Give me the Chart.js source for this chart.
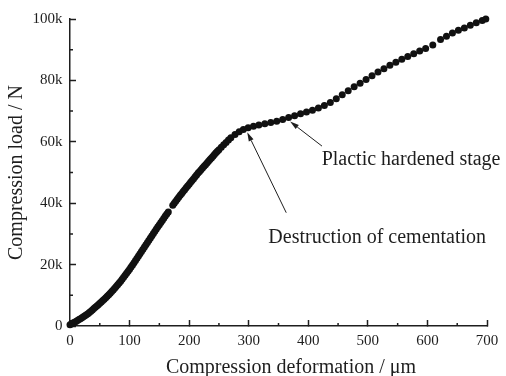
<!DOCTYPE html>
<html>
<head>
<meta charset="utf-8">
<script src="https://cdn.jsdelivr.net/npm/chart.js@4.4.1/dist/chart.umd.min.js"></script>
<style>
  html,body{margin:0;padding:0;background:#fff}
  #wrap{width:506px;height:376px}
</style>
</head>
<body>
<div id="wrap"><canvas id="chart" width="506" height="376"></canvas></div>
<script>
// ====== DATA ======
// compression deformation (µm) and the matching load (N)
const deformation = [
  0, 2.5, 5, 7.5, 10, 12.5, 15, 17.5, 20, 22.5, 25, 27.5, 30, 32.5, 35, 37.5, 40, 42.5, 45, 47.5,
  50, 52.5, 55, 57.5, 60, 62.5, 65, 67.5, 70, 72.5, 75, 77.5, 80, 82.5, 85, 87.5, 90, 92.5, 95, 97.5,
  100, 102.5, 105, 107.5, 110, 112.5, 115, 117.5, 120, 122.5, 125, 127.5, 130, 132.5, 135, 137.5, 140, 142.5, 145, 147.5,
  150, 152.5, 155, 157.5, 160, 162.5, 165, 172.5, 175, 177.5, 180, 182.5, 185, 187.5, 190, 192.5, 195, 197.5,
  200, 202.5, 205, 207.5, 210, 212.5, 215, 217.5, 220, 222.5, 225, 227.5, 230, 232.5, 235, 237.5, 240, 242.5, 245, 247.5,
  250, 254, 258, 262, 266, 270,
  277, 284, 291, 299, 308, 317, 327, 337, 347, 357, 367, 377, 387, 397,
  407, 417, 427, 437, 447, 457, 467, 477, 487, 497, 507, 517, 527, 537, 547, 557, 567, 577, 587, 597,
  609, 622, 632, 642, 652, 662, 672, 682, 692, 698
];
const load = [
  400, 700, 1000, 1250, 1500, 1800, 2100, 2400, 2700, 3000, 3300, 3650, 4000, 4400, 4800, 5250, 5700, 6100, 6500, 6950,
  7400, 7850, 8300, 8750, 9200, 9700, 10200, 10700, 11200, 11750, 12300, 12850, 13400, 14000, 14600, 15250, 15900, 16550, 17200, 17850,
  18500, 19200, 19900, 20600, 21300, 22050, 22800, 23550, 24300, 25000, 25700, 26450, 27200, 27950, 28700, 29400, 30100, 30850, 31600, 32300,
  33000, 33700, 34400, 35100, 35800, 36450, 37100, 39350, 40000, 40650, 41300, 41950, 42600, 43200, 43800, 44400, 45000, 45600,
  46200, 46800, 47400, 48000, 48600, 49200, 49800, 50350, 50900, 51450, 52000, 52550, 53100, 53650, 54200, 54750, 55300, 55850, 56400, 56900,
  57400, 58200, 59000, 59800, 60600, 61300,
  62400, 63300, 64000, 64600, 65100, 65500, 65900, 66300, 66700, 67300, 67900, 68500, 69100, 69700,
  70300, 71000, 71800, 72800, 74000, 75300, 76600, 77900, 79100, 80300, 81500, 82700, 83800, 84900, 85900, 86900, 87800, 88700, 89600, 90400,
  91500, 93300, 94400, 95400, 96300, 97100, 98000, 98800, 99500, 100000
];
const xTicks = [0, 100, 200, 300, 400, 500, 600, 700];
const yTicks = [0, 20000, 40000, 60000, 80000, 100000];
const xMinor = [50, 150, 250, 350, 450, 550, 650];
const yMinor = [10000, 30000, 50000, 70000, 90000];

// callouts: arrow tip / tail and label anchor, in data units
const notes = [
  { text: 'Destruction of cementation', tip: [297.5, 63100], tail: [363, 36900], at: [333, 27100] },
  { text: 'Plactic hardened stage', tip: [369.5, 66600], tail: [423, 58600], at: [422.5, 52300] }
];

// ====== STYLE ======
const SERIF = '"Liberation Serif", "Times New Roman", serif';
const INK = '#1e1e1e';

// minor ticks, callout arrows and the x title
const overlay = {
  id: 'overlay',
  afterDraw(chart){
    const {ctx, scales:{x, y}, chartArea:a} = chart;
    ctx.save();
    ctx.strokeStyle = INK; ctx.lineWidth = 1.5;
    ctx.beginPath();
    for(const v of xMinor){ const px = x.getPixelForValue(v); ctx.moveTo(px, a.bottom); ctx.lineTo(px, a.bottom - 3); }
    for(const v of yMinor){ const py = y.getPixelForValue(v); ctx.moveTo(a.left, py); ctx.lineTo(a.left + 3, py); }
    ctx.stroke();

    ctx.lineWidth = 1; ctx.fillStyle = INK;
    ctx.font = `20px ${SERIF}`; ctx.textAlign = 'left'; ctx.textBaseline = 'alphabetic';
    for(const n of notes){
      const tx = x.getPixelForValue(n.tip[0]), ty = y.getPixelForValue(n.tip[1]);
      const fx = x.getPixelForValue(n.tail[0]), fy = y.getPixelForValue(n.tail[1]);
      const ang = Math.atan2(ty - fy, tx - fx), L = 9, W = 2.6;
      const bx = tx - L*Math.cos(ang), by = ty - L*Math.sin(ang);
      ctx.beginPath(); ctx.moveTo(fx, fy); ctx.lineTo(bx, by); ctx.stroke();
      ctx.beginPath();
      ctx.moveTo(tx, ty);
      ctx.lineTo(bx + W*Math.sin(ang), by - W*Math.cos(ang));
      ctx.lineTo(bx - W*Math.sin(ang), by + W*Math.cos(ang));
      ctx.closePath(); ctx.fill();
      ctx.fillText(n.text, x.getPixelForValue(n.at[0]), y.getPixelForValue(n.at[1]));
    }

    ctx.textAlign = 'center';
    ctx.fillText('Compression deformation / \u03bcm', 291, 373);
    ctx.restore();
  }
};

new Chart(document.getElementById('chart'), {
  type: 'scatter',
  data: {
    datasets: [{
      data: deformation.map((d, i) => ({ x: d, y: load[i] })),
      pointRadius: 3.5,
      pointHoverRadius: 3.5,
      pointBackgroundColor: '#111',
      pointBorderWidth: 0,
      showLine: false,
      clip: false
    }]
  },
  options: {
    responsive: false,
    animation: false,
    devicePixelRatio: 1,
    layout: { padding: { left: 0, top: 19, right: 19, bottom: 0 } },
    plugins: { legend: { display: false }, tooltip: { enabled: false } },
    scales: {
      x: {
        type: 'linear', min: 0, max: 700,
        afterBuildTicks: s => { s.ticks = xTicks.map(v => ({ value: v })); },
        afterFit: s => { s.height = 50; s.paddingLeft = 0; s.paddingRight = 0; },
        border: { color: INK, width: 1.5 },
        grid: { drawOnChartArea: false, drawTicks: true, tickLength: -6, tickColor: INK, tickWidth: 1.5 },
        ticks: { color: INK, font: { family: SERIF, size: 15 }, padding: 12, maxRotation: 0 }
      },
      y: {
        type: 'linear', min: 0, max: 100000,
        afterBuildTicks: s => { s.ticks = yTicks.map(v => ({ value: v })); },
        afterFit: s => { s.width = 70; s.paddingTop = 0; s.paddingBottom = 0; },
        border: { color: INK, width: 1.5 },
        grid: { drawOnChartArea: false, drawTicks: true, tickLength: -6, tickColor: INK, tickWidth: 1.5 },
        ticks: { color: INK, font: { family: SERIF, size: 15 }, padding: 13.5,
                 callback: v => v === 0 ? '0' : (v / 1000) + 'k' },
        title: { display: true, text: 'Compression load / N', color: INK,
                 font: { family: SERIF, size: 20 }, padding: { top: 5, bottom: 0 } }
      }
    }
  },
  plugins: [overlay]
});
</script>
</body>
</html>
